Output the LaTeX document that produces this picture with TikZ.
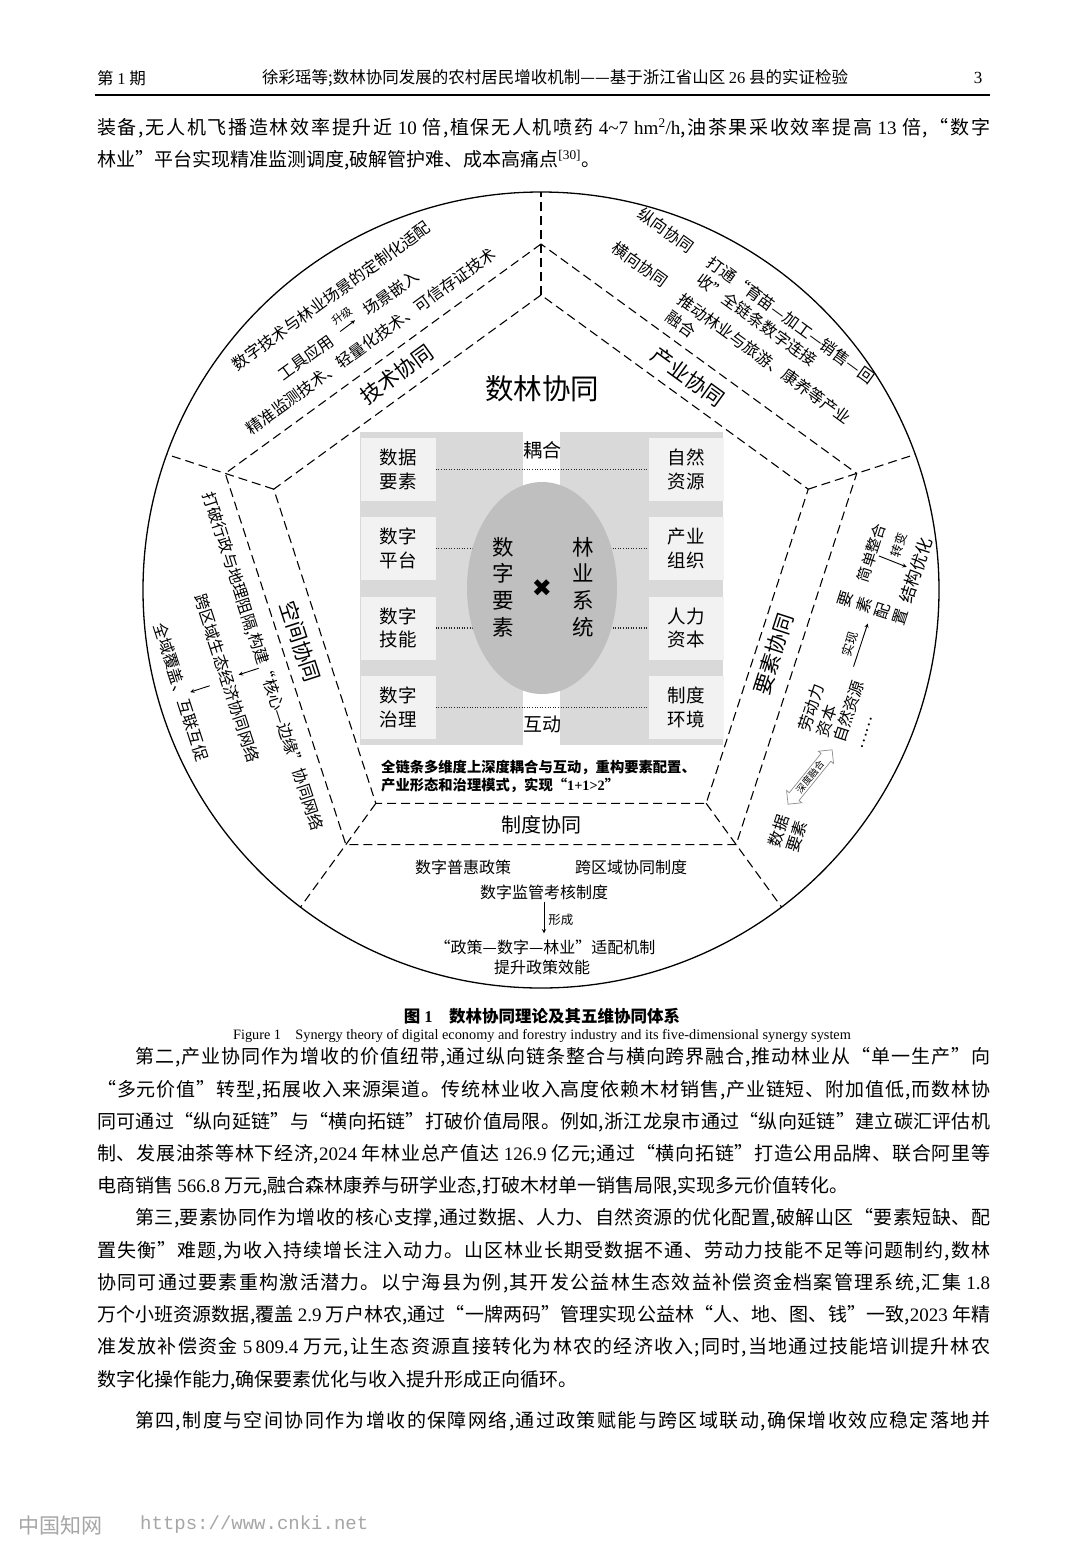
\documentclass[tikz,border=0pt]{standalone}
\usepackage{fontspec}
\setmainfont{Noto Sans CJK SC}
\newfontfamily\latfont{Liberation Serif}
\newfontfamily\urlfont{Liberation Mono}
\newfontfamily\symfont{DejaVu Sans}
\usetikzlibrary{calc,shapes.geometric,shapes.arrows}

% stretchable gaps between Chinese characters, for justified lines
\XeTeXinterchartokenstate=1
\newcount\zhc
\zhc="4E00
\loop
  \XeTeXcharclass\zhc=50
  \advance\zhc by 1
\ifnum\zhc<"A000 \repeat
\zhc="3000
\loop
  \XeTeXcharclass\zhc=50
  \advance\zhc by 1
\ifnum\zhc<"3040 \repeat
\zhc="FF01
\loop
  \XeTeXcharclass\zhc=50
  \advance\zhc by 1
\ifnum\zhc<"FF5F \repeat
\XeTeXcharclass"201C=50
\XeTeXcharclass"201D=50
\XeTeXcharclass"2014=50
\XeTeXcharclass"2026=50
\newcommand{\zhgap}{\hskip 0pt plus 3pt minus 0.6pt\relax}
\XeTeXinterchartoks 50 50 = {\zhgap}
\XeTeXinterchartoks 0 50 = {\zhgap}
\XeTeXinterchartoks 50 0 = {\zhgap}

\newcommand{\setfs}[2]{\fontsize{#1}{#2}\selectfont}

\begin{document}
\begin{tikzpicture}[x=1pt, y=-1pt,
  every node/.style={inner sep=0pt},
  bodyline/.style={anchor=west, font=\setfs{19}{24}},
  sectext/.style={font=\setfs{16}{20}},
  bandtext/.style={font=\setfs{21}{24}},
  lbltext/.style={font=\setfs{12.5}{14}},
  cellbox/.style={fill=black!5, minimum width=75pt, minimum height=63pt, align=center, font=\setfs{18.5}{23.5}},
  dashline/.style={dash pattern=on 9pt off 5pt, line width=1.1pt},
  dotline/.style={dash pattern=on 1pt off 1.6pt, line width=1.2pt, black!85},
  flow/.style={->, >=stealth, line width=0.9pt}]

  \fill[white] (0,0) rectangle (1080,1551);
  \useasboundingbox (0,0) rectangle (1080,1551);

  % --- header ---
  \node[anchor=west, font=\setfs{16.5}{20}] (hissue) at (97,78) {第 {\latfont 1} 期};
  \node[anchor=west, font=\setfs{16.5}{20}] (htitle) at (262,78) {徐彩瑶等;数林协同发展的农村居民增收机制——基于浙江省山区 {\latfont 26} 县的实证检验};
  \node[font=\latfont\setfs{17}{20}] (hpage) at (978,78) {3};
  \draw[line width=1.6pt] (95,95) -- (990,95);

  % --- paragraph above the figure ---
  \node[bodyline] (pa1) at (97,128) {\hbox to 893pt{装备,无人机飞播造林效率提升近 {\latfont 10} 倍,植保无人机喷药 {\latfont 4\textasciitilde 7 hm\textsuperscript{2}/h},油茶果采收效率提高 {\latfont 13} 倍,“数字}};
  \node[bodyline] (pa2) at (97,160) {林业”平台实现精准监测调度,破解管护难、成本高痛点{\latfont\textsuperscript{[30]}}。};

  % --- circle and pentagons ---
  \draw[line width=1.3pt] (541,590) circle [radius=398pt];
  \coordinate (P) at (541,576);
  \foreach \a/\len [count=\i] in {90/384,162/393.5,234/409.2,306/409.2,18/393.5} {
    \coordinate (o\i) at ($(P)+(\a:332pt)$);
    \coordinate (n\i) at ($(P)+(\a:281pt)$);
    \coordinate (c\i) at ($(P)+(\a:\len pt)$);
  }
  \draw[dashline] (o1) -- (o2) -- (o3) -- (o4) -- (o5) -- cycle;
  \draw[dashline] (n1) -- (n2) -- (n3) -- (n4) -- (n5) -- cycle;
  \foreach \i in {1,...,5} \draw[dashline] (n\i) -- (c\i);

  % --- core block ---
  \node[font=\setfs{28.5}{30}] (title) at (542,389) {数林协同};
  \fill[black!15] (360,432) rectangle (723,745);
  \fill[white] (523,432) rectangle (560,500);
  \fill[white] (523,680) rectangle (560,745);
  \node[cellbox] (dg1) at (398,469.5) {数据\\要素};
  \node[cellbox] (dg2) at (398,548.5) {数字\\平台};
  \node[cellbox] (dg3) at (398,628) {数字\\技能};
  \node[cellbox] (dg4) at (398,707.5) {数字\\治理};
  \node[cellbox] (fo1) at (686,469.5) {自然\\资源};
  \node[cellbox] (fo2) at (686,548.5) {产业\\组织};
  \node[cellbox] (fo3) at (686,628) {人力\\资本};
  \node[cellbox] (fo4) at (686,707.5) {制度\\环境};
  \foreach \i in {1,...,4} \draw[dotline] (dg\i) -- (fo\i);
  \node[ellipse, fill=black!25, minimum width=150pt, minimum height=212pt] (core) at (542,588) {};
  \node[align=center, font=\setfs{21.5}{26.7}] (digit) at (503,587) {数\\字\\要\\素};
  \node[align=center, font=\setfs{21.5}{26.7}] (forest) at (583,587) {林\\业\\系\\统};
  \node[font=\symfont\setfs{24}{24}] (cross) at (542,588) {✖};
  \node[font=\setfs{19}{22}] (couple) at (542,450) {耦合};
  \node[font=\setfs{19}{22}] (inter) at (542,724) {互动};
  \node[anchor=west, align=left, font=\bfseries\setfs{14.3}{18}] (summary) at (381,776) {全链条多维度上深度耦合与互动，重构要素配置、\\产业形态和治理模式，实现“{\latfont 1+1>2}”};

  % --- technology synergy (upper left) ---
  \begin{scope}[shift={(541,576)}, rotate=36, transform shape]
    \node[sectext] (tech1) at (-5pt,350pt) {数字技术与林业场景的定制化适配};
    \node[sectext] (tool) at (-62pt,315pt) {工具应用};
    \node[sectext] (scene) at (45pt,317pt) {场景嵌入};
    \draw[flow, shorten <=11pt, shorten >=13pt] (tool) -- node[above=6pt, font=\setfs{11}{12}] {升级} (scene);
    \node[sectext] (tech3) at (0pt,290pt) {精准监测技术、轻量化技术、可信存证技术};
    \node[bandtext] (tech) at (2pt,248pt) {技术协同};
  \end{scope}

  % --- industry synergy (upper right) ---
  \begin{scope}[shift={(541,576)}, rotate=-36, transform shape]
    \node[sectext] (vert) at (-102pt,353pt) {纵向协同};
    \node[sectext, anchor=west] (vert1) at (-50pt,354pt) {打通“育苗—加工—销售—回};
    \node[sectext, anchor=west] (vert2) at (-48pt,334pt) {收”全链条数字连接};
    \node[sectext] (horz) at (-103pt,310pt) {横向协同};
    \node[sectext, anchor=west] (horz1) at (-51pt,307pt) {推动林业与旅游、康养等产业};
    \node[sectext, anchor=west] (horz2) at (-51pt,286pt) {融合};
    \node[bandtext] (indu) at (2pt,247.5pt) {产业协同};
  \end{scope}

  % --- spatial synergy (left) ---
  \begin{scope}[shift={(541,576)}, rotate=-72, transform shape]
    \node[sectext] (spa1) at (-5pt,-291.5pt) {打破行政与地理阻隔,构建“核心—边缘”协同网络};
    \node[sectext] (spa2) at (0pt,-330pt) {跨区域生态经济协同网络};
    \node[sectext] (spa3) at (-1pt,-378pt) {全域覆盖、互联互促};
    \coordinate (sa1) at (0.5pt,-297pt);
    \coordinate (sa2) at (0.5pt,-318pt);
    \coordinate (sa3) at (2pt,-349pt);
    \coordinate (sa4) at (2pt,-369.5pt);
    \draw[flow] (sa1) -- (sa2);
    \draw[flow] (sa3) -- (sa4);
    \node[bandtext] (space) at (-12pt,-249pt) {空间协同};
  \end{scope}

  % --- factor synergy (right) ---
  \begin{scope}[shift={(541,576)}, rotate=72, transform shape]
    \node[bandtext] (elem) at (-2pt,-245pt) {要素协同};
    \node[sectext, align=center, font=\setfs{16}{19}] (data) at (-169pt,-314.5pt) {数据\\要素};
    \node[double arrow, draw=black!45, fill=white, line width=0.7pt, double arrow head extend=3.5pt,
      inner sep=1.5pt, minimum height=70pt, font=\setfs{9.5}{10}, rotate=-21] (fuse) at (-108pt,-318pt) {深度融合};
    \node[anchor=west, align=left, font=\setfs{16}{18.7}] (res) at (-66pt,-325pt) {劳动力\\资本\\自然资源\\……};
    \node[align=center, font=\setfs{16}{19}] (cfg) at (72pt,-325.5pt) {要\\素\\配\\置};
    \draw[flow, shorten <=12pt, shorten >=8pt] (res) -- node[above=4pt, lbltext] {实现} (cfg);
    \node[font=\setfs{15}{18}] (simp) at (124pt,-307pt) {简单整合};
    \node[font=\setfs{17}{20}] (struc) at (121pt,-355pt) {结构优化};
    \draw[flow, shorten <=1pt, shorten >=2pt] (simp) -- node[right=4pt, lbltext] {转变} (struc);
  \end{scope}

  % --- institutional synergy (bottom) ---
  \node[font=\setfs{20}{24}] (inst) at (541,825) {制度协同};
  \node[sectext] (pol1) at (463,867) {数字普惠政策};
  \node[sectext] (pol2) at (631,867) {跨区域协同制度};
  \node[sectext] (pol3) at (544,892) {数字监管考核制度};
  \node[sectext] (mech) at (545,947) {“政策—数字—林业”适配机制};
  \node[sectext] (eff) at (542,967) {提升政策效能};
  \draw[flow, shorten <=2pt, shorten >=6pt] (pol3.south) -- node[right=4pt, lbltext] {形成} (pol3.south |- mech.north);

  % --- caption ---
  \node[font=\bfseries\setfs{16.5}{20}] (cap) at (542,1016) {图 {\latfont\bfseries 1}\hspace{1em}数林协同理论及其五维协同体系};
  \node[font=\latfont\setfs{14.3}{16}] (capen) at (542,1036) {Figure 1\hspace{1em}Synergy theory of digital economy and forestry industry and its five-dimensional synergy system};

  % --- paragraphs below the figure ---
  \node[bodyline] (pb1) at (135,1057) {\hbox to 855pt{第二,产业协同作为增收的价值纽带,通过纵向链条整合与横向跨界融合,推动林业从“单一生产”向}};
  \node[bodyline] (pb2) at (97,1090) {\hbox to 893pt{“多元价值”转型,拓展收入来源渠道。传统林业收入高度依赖木材销售,产业链短、附加值低,而数林协}};
  \node[bodyline] (pb3) at (97,1122) {\hbox to 893pt{同可通过“纵向延链”与“横向拓链”打破价值局限。例如,浙江龙泉市通过“纵向延链”建立碳汇评估机}};
  \node[bodyline] (pb4) at (97,1154) {\hbox to 893pt{制、发展油茶等林下经济,{\latfont 2024} 年林业总产值达 {\latfont 126.9} 亿元;通过“横向拓链”打造公用品牌、联合阿里等}};
  \node[bodyline] (pb5) at (97,1186) {电商销售 {\latfont 566.8} 万元,融合森林康养与研学业态,打破木材单一销售局限,实现多元价值转化。};
  \node[bodyline] (pc1) at (135,1218) {\hbox to 855pt{第三,要素协同作为增收的核心支撑,通过数据、人力、自然资源的优化配置,破解山区“要素短缺、配}};
  \node[bodyline] (pc2) at (97,1251) {\hbox to 893pt{置失衡”难题,为收入持续增长注入动力。山区林业长期受数据不通、劳动力技能不足等问题制约,数林}};
  \node[bodyline] (pc3) at (97,1283) {\hbox to 893pt{协同可通过要素重构激活潜力。以宁海县为例,其开发公益林生态效益补偿资金档案管理系统,汇集 {\latfont 1.8}}};
  \node[bodyline] (pc4) at (97,1315) {\hbox to 893pt{万个小班资源数据,覆盖 {\latfont 2.9} 万户林农,通过“一牌两码”管理实现公益林“人、地、图、钱”一致,{\latfont 2023} 年精}};
  \node[bodyline] (pc5) at (97,1347) {\hbox to 893pt{准发放补偿资金 {\latfont 5\,809.4} 万元,让生态资源直接转化为林农的经济收入;同时,当地通过技能培训提升林农}};
  \node[bodyline] (pc6) at (97,1380) {数字化操作能力,确保要素优化与收入提升形成正向循环。};
  \node[bodyline] (pd1) at (135,1421) {\hbox to 855pt{第四,制度与空间协同作为增收的保障网络,通过政策赋能与跨区域联动,确保增收效应稳定落地并}};

  % --- footer ---
  \node[anchor=west, text=black!35, font=\setfs{21}{24}] (fsite) at (18,1525) {中国知网};
  \node[anchor=west, text=black!35, font=\urlfont\setfs{19}{24}] (furl) at (140,1525) {https://www.cnki.net};

\end{tikzpicture}
\end{document}
